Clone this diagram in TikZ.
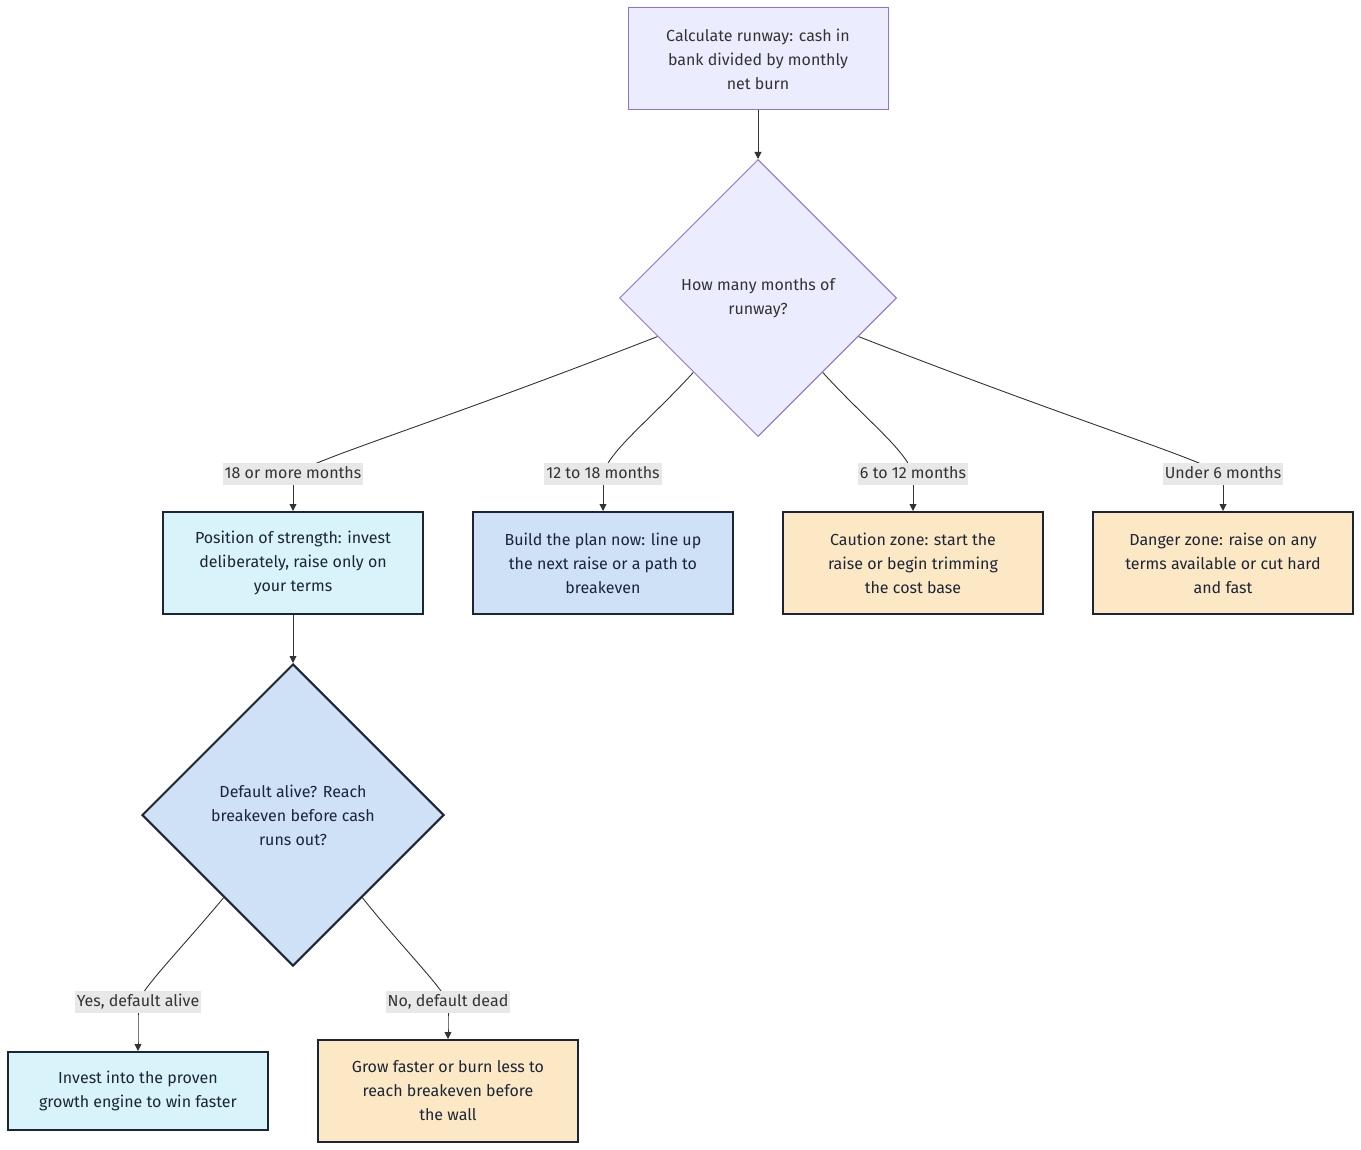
\documentclass[tikz,border=0pt]{standalone}
\usepackage{fontspec}
\setmainfont{Fira Sans}
\usepackage{xcolor}
\usepackage{tikz}
\usetikzlibrary{shapes,arrows.meta,positioning,calc,backgrounds}

\definecolor{lilac}{HTML}{ECECFF}
\definecolor{lilacline}{HTML}{9370DB}
\definecolor{iceblue}{HTML}{D8F3F9}
\definecolor{softblue}{HTML}{CFE1F6}
\definecolor{sand}{HTML}{FDE8C5}
\definecolor{inkline}{HTML}{1B2537}
\definecolor{tagfill}{HTML}{E8E8E8}
\definecolor{txt}{HTML}{333333}

\begin{document}
\begin{tikzpicture}[x=1pt, y=-1pt, node distance=48pt, >={Triangle[length=7pt,width=7pt]},
    font=\fontsize{16}{24}\selectfont]
    % Styles
    \tikzstyle{block} = [rectangle, draw=inkline, line width=2pt, text=inkline, align=center, minimum width=260pt, minimum height=102pt, inner sep=0pt]
    \tikzstyle{start} = [block, draw=lilacline, line width=1pt, fill=lilac, text=txt]
    \tikzstyle{decision} = [diamond, draw=inkline, line width=2pt, text=inkline, align=center, aspect=1, inner sep=0pt]
    \tikzstyle{edgetag} = [fill=tagfill, text=txt, inner xsep=2pt, inner ysep=0pt, minimum height=22pt, text height=12pt, text depth=4pt]
    \tikzstyle{line} = [draw=txt, line width=0.9pt]
    \tikzstyle{arrow} = [line, ->]
    \useasboundingbox (0,0) rectangle (1361,1150);

    % Nodes
    \node [start] (runway) at (758,59) {Calculate runway: cash in\\bank divided by monthly\\net burn};
    \node [decision, draw=lilacline, line width=1pt, fill=lilac, text=txt, minimum size=277pt] (months) at (758,298) {How many months of\\runway?};

    \node [block, fill=iceblue] (strong) at (293,563) {Position of strength: invest\\deliberately, raise only on\\your terms};
    \node [block, fill=softblue, right=of strong] (plan) {Build the plan now: line up\\the next raise or a path to\\breakeven};
    \node [block, fill=sand, right=of plan] (caution) {Caution zone: start the\\raise or begin trimming\\the cost base};
    \node [block, fill=sand, right=of caution] (danger) {Danger zone: raise on any\\terms available or cut hard\\and fast};

    \node [decision, fill=softblue, minimum size=302pt] (alive) at (293,815) {Default alive? Reach\\breakeven before cash\\runs out?};
    \node [block, fill=iceblue, minimum height=78pt] (invest) at (138,1091) {Invest into the proven\\growth engine to win faster};
    \node [block, fill=sand] (grow) at (448,1091) {Grow faster or burn less to\\reach breakeven before\\the wall};

    % Edge labels
    \node [edgetag] (t18) at (293,474) {18 or more months};
    \node [edgetag] (t12) at (603,474) {12 to 18 months};
    \node [edgetag] (t6) at (913,474) {6 to 12 months};
    \node [edgetag] (tunder) at (1223,474) {Under 6 months};
    \node [edgetag] (tyes) at (138,1002) {Yes, default alive};
    \node [edgetag] (tno) at (448,1002) {No, default dead};

    % Paths
    \path [arrow] (runway) -- (months);
    \path [arrow] (strong) -- (alive);
    \begin{scope}[on background layer]
    \path [line] (months.201) .. controls (430,425) and (335,452) .. (t18.center);
    \path [line] (months.229) .. controls (650,420) and (610,450) .. (t12.center);
    \path [line] (months.311) .. controls (866,420) and (906,450) .. (t6.center);
    \path [line] (months.339) .. controls (1086,425) and (1181,452) .. (tunder.center);
    \path [line] (alive.230) .. controls (180,950) and (145,985) .. (tyes.center);
    \path [line] (alive.310) .. controls (400,945) and (440,985) .. (tno.center);
    \end{scope}
    \path [arrow] (t18.south) .. controls (293,495) .. (strong.north);
    \path [arrow] (t12.south) .. controls (603,495) .. (plan.north);
    \path [arrow] (t6.south) .. controls (913,495) .. (caution.north);
    \path [arrow] (tunder.south) .. controls (1223,495) .. (danger.north);
    \path [arrow] (tyes.south) .. controls (138,1025) .. (invest.north);
    \path [arrow] (tno.south) .. controls (448,1018) .. (grow.north);
\end{tikzpicture}
\end{document}
